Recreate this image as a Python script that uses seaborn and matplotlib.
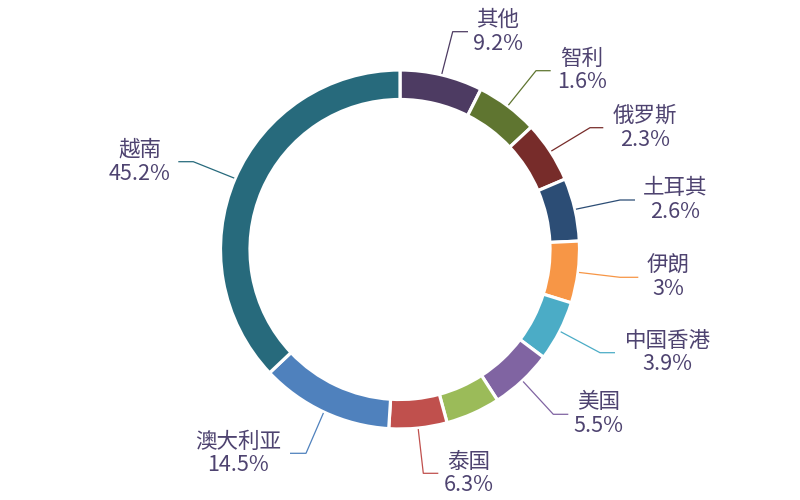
import numpy as np
import matplotlib
matplotlib.use("Agg")
import matplotlib.pyplot as plt
import seaborn as sns

# slices clockwise from 12 o'clock
names = ["其他", "智利", "俄罗斯", "土耳其", "伊朗", "中国香港", "美国", "", "泰国", "澳大利亚", "越南"]
pct_labels = ["9.2%", "1.6%", "2.3%", "2.6%", "3%", "3.9%", "5.5%", "", "6.3%", "14.5%", "45.2%"]
# arc size of each ring segment (degrees)
arc_deg = [26.8, 20.2, 19.9, 20.4, 20.0, 19.6, 20.2, 17.7, 18.8, 43.0, 133.4]
colors = ["#4D3B62", "#5F7530", "#772C2A", "#2C4D75", "#F79646", "#4BACC6",
          "#8064A2", "#9BBB59", "#C0504D", "#4F81BD", "#276A7C"]

# label layout in pixel coords (y from top): elbow point, end of the short
# horizontal segment, and text centre x
elbow = [(452.7, 31.7), (536, 70.7), (590, 127.7), (620, 200), (620, 277.3),
         (600, 352.7), (553.3, 414.3), None, (423.3, 473.3), (306, 453.3), (193.3, 161.7)]
line_end_x = [468, 550.7, 603.3, 635, 638.3, 615, 568.3, None, 438.3, 290, 178.3]
text_cx = [498, 581.7, 645, 675, 668, 667.7, 598.3, None, 468.3, 238.3, 140]

W, H = 800, 500
CX, CY = 400, 249.5
R_OUT, RING_W = 179.5, 29.5

sns.set_theme(style="white")
plt.rcParams["font.family"] = ["Noto Sans CJK SC", "DejaVu Sans"]
text_color = "#4E4370"

fig = plt.figure(figsize=(8, 5), dpi=100)
ax = fig.add_axes([0, 0, 1, 1])

ax.pie(arc_deg, colors=colors, startangle=90, counterclock=False,
       radius=R_OUT, center=(CX, H - CY),
       wedgeprops=dict(width=RING_W, edgecolor="white", linewidth=2.3))

ax.set_xlim(0, W)
ax.set_ylim(0, H)
ax.set_aspect("equal")
ax.axis("off")

# leader lines and labels
cum = np.cumsum([0] + arc_deg)
for i, name in enumerate(names):
    if not name:
        continue
    mid = np.radians((cum[i] + cum[i + 1]) / 2)
    r_line = R_OUT + 1
    sx = CX + r_line * np.sin(mid)
    sy = CY - r_line * np.cos(mid)
    ex, ey = elbow[i]
    xs = [sx, ex, line_end_x[i]]
    ys = [H - sy, H - ey, H - ey]
    ax.plot(xs, ys, color=colors[i], lw=0.9, solid_capstyle="butt")
    ax.text(text_cx[i], H - (ey - 11.8), name, ha="center", va="center",
            fontsize=15.5, color=text_color)
    ax.text(text_cx[i], H - (ey + 11.8), pct_labels[i], ha="center", va="center",
            fontsize=15.5, color=text_color)

fig.savefig("out.png", dpi=100, facecolor="white")
